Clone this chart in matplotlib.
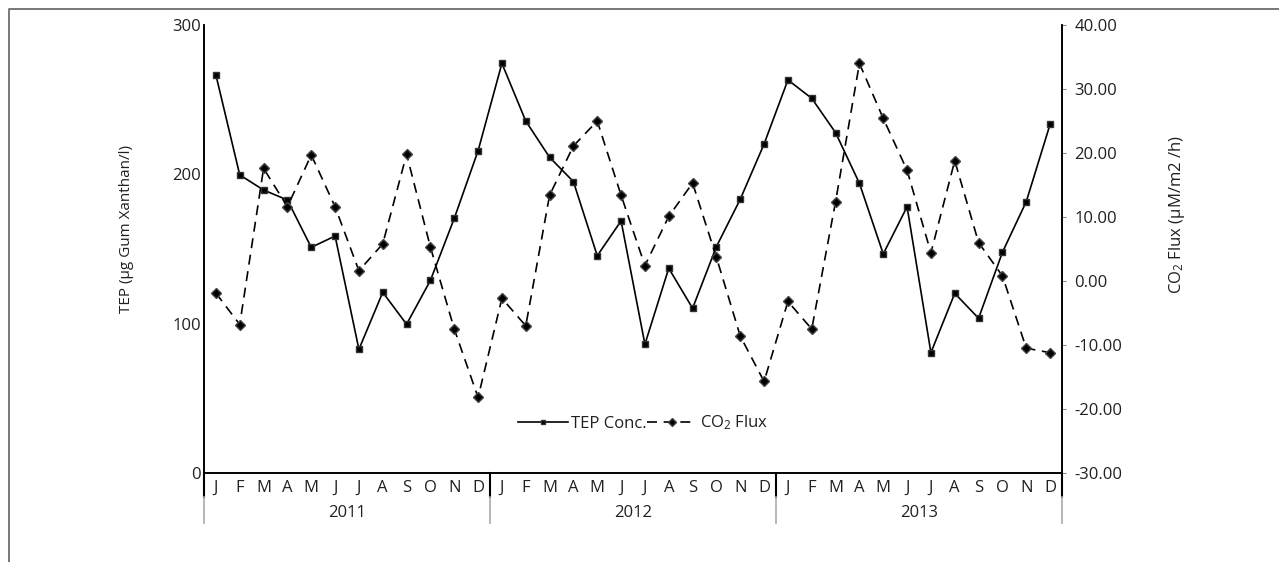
import numpy as np
import matplotlib
matplotlib.use("Agg")
import matplotlib.pyplot as plt
from matplotlib.lines import Line2D
import matplotlib.transforms as mtransforms

plt.rcParams['font.family'] = ['Open Sans', 'DejaVu Sans']
plt.rcParams['mathtext.default'] = 'regular'
plt.rcParams['axes.unicode_minus'] = False

months = ['J', 'F', 'M', 'A', 'M', 'J', 'J', 'A', 'S', 'O', 'N', 'D'] * 3
years = ['2011', '2012', '2013']

# TEP concentration (left axis, ug Gum Xanthan/l)
tep = [266.5, 199.6, 189.5, 182.8, 151.1, 158.7, 82.8, 121.0, 99.6, 129.0, 170.5, 215.8,
       274.3, 235.7, 211.4, 195.1, 145.5, 168.8, 86.2, 137.1, 110.3, 151.6, 183.3, 220.3,
       263.2, 250.9, 227.9, 194.0, 146.7, 178.3, 80.6, 120.3, 103.6, 147.8, 181.7, 233.5]

# CO2 flux (right axis, uM/m2/h)
co2 = [-1.9, -6.8, 17.6, 11.6, 19.7, 11.6, 1.6, 5.8, 19.8, 5.3, -7.5, -18.2,
       -2.7, -7.0, 13.4, 21.1, 25.0, 13.4, 2.4, 10.1, 15.3, 3.7, -8.6, -15.7,
       -3.2, -7.5, 12.4, 34.0, 25.4, 17.3, 4.4, 18.8, 6.0, 0.8, -10.5, -11.2]

txt = '#231f20'
W, H = 1279, 562
fig = plt.figure(figsize=(W / 100, H / 100), dpi=100)

# outer chart frame (cropped on right and bottom)
fig.add_artist(Line2D([9 / W, 9 / W, 1.0], [0.0, 1 - 9 / H, 1 - 9 / H],
                      transform=fig.transFigure, color='#6d6d6d', lw=1.3))

ax = fig.add_axes([204 / W, 1 - 473 / H, (1062 - 204) / W, (473 - 25) / H])
ax2 = ax.twinx()

x = np.arange(len(tep))
l1, = ax.plot(x, tep, color='black', lw=1.2, marker='s', ms=4.3,
              mfc='black', mec='#333333', label='TEP Conc.')
l2, = ax2.plot(x, co2, color='black', lw=1.2, ls=(0, (6, 4)), marker='D', ms=5.5,
               mfc='black', mec='#444444', label='CO$_2$ Flux')

ax.set_xlim(-0.5, len(tep) - 0.5)
ax.set_ylim(0, 300)
ax.set_yticks([0, 100, 200, 300])
ax2.set_ylim(-30, 40)
ax2.set_yticks(np.arange(-30, 41, 10))
ax2.set_yticklabels(['%.2f' % v for v in np.arange(-30, 41, 10)])

for a in (ax, ax2):
    a.spines['top'].set_visible(False)
    for s in a.spines.values():
        s.set_color('black')
        s.set_linewidth(1.2)

ax.tick_params(axis='y', length=0, pad=2, labelsize=12, labelcolor=txt)
ax2.tick_params(axis='y', length=3, color='#888888', pad=6, labelsize=12, labelcolor=txt)

ax.set_xticks(x)
ax.set_xticklabels(months)
ax.tick_params(axis='x', length=0, pad=5, labelsize=12, labelcolor=txt)

# category separators and year labels below the axis
tr = mtransforms.blended_transform_factory(ax.transData, ax.transAxes)
lev1 = -24 / 448
lev2 = -50 / 448
for b in [-0.5, 11.5, 23.5, 35.5]:
    ax.plot([b, b], [0, lev1], transform=tr, color='black', lw=1.5, clip_on=False)
    ax.plot([b, b], [lev1, lev2], transform=tr, color='#aaaaaa', lw=1.2, clip_on=False)
for i, yr in enumerate(years):
    ax.text(i * 12 + 5.5, -40 / 448, yr, transform=tr, ha='center', va='center',
            fontsize=12, color=txt)

fig.text(127 / W, 1 - 229 / H, 'TEP (µg Gum Xanthan/l)', rotation=90,
         ha='center', va='center', fontsize=11, color=txt)
fig.text(1177 / W, 1 - 215 / H, 'CO$_2$ Flux (µM/m2 /h)', rotation=90,
         ha='center', va='center', fontsize=12, color=txt)

fig.legend(handles=[l1, l2], loc='center', bbox_to_anchor=(643 / W, 1 - 423 / H),
           ncol=2, frameon=False, fontsize=12, handlelength=3.0,
           handletextpad=0.2, columnspacing=0.0, labelcolor=txt, markerscale=0.8)

fig.savefig('out.png', dpi=100)
